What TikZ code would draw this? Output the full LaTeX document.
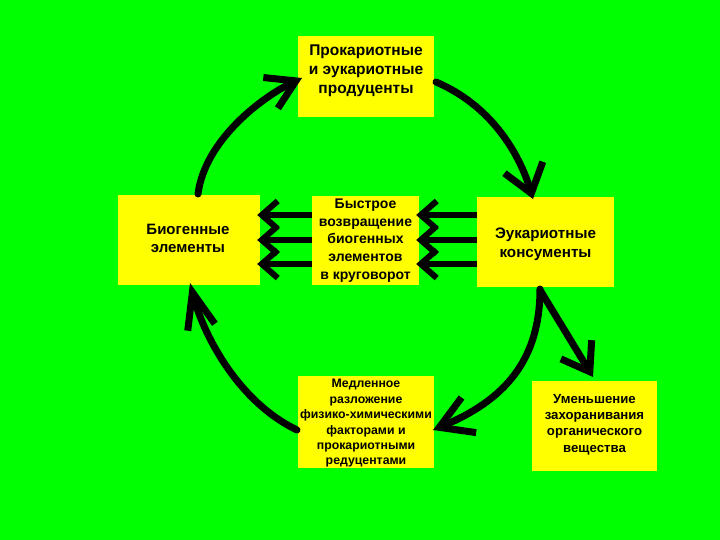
\documentclass[tikz,border=0pt]{standalone}
\usepackage{fontspec}
\setmainfont{Liberation Sans}
\usetikzlibrary{arrows.meta}
\definecolor{bggreen}{RGB}{0,255,0}
\definecolor{boxyellow}{RGB}{255,255,0}
\tikzset{
  box/.style={fill=boxyellow, draw=none, inner sep=0pt},
  boxtext/.style={inner sep=0pt, align=center, font=\bfseries},
  bigarrow/.style={line width=7pt, line cap=round},
  smallarrow/.style={line width=6pt, -{Straight Barb[length=16pt,width=28pt]}}
}
\begin{document}
\begin{tikzpicture}[x=1pt,y=-1pt]
\fill[bggreen] (0,0) rectangle (720,540);
\useasboundingbox (0,0) rectangle (720,540);
% boxes
\node[box, minimum width=136pt, minimum height=81pt] (prod) at (366,76.5) {};
\node[boxtext, font=\bfseries\fontsize{15.5}{19}\selectfont] (prodt) at (366,71) {Прокариотные\\и эукариотные\\продуценты};
\node[box, minimum width=142pt, minimum height=90pt] (bio) at (189,240) {};
\node[boxtext, font=\bfseries\fontsize{15}{17.5}\selectfont] (biot) at (188,238.5) {Биогенные\\элементы};
\node[box, minimum width=107pt, minimum height=89pt] (fast) at (365.5,240.5) {};
\node[boxtext, font=\bfseries\fontsize{14}{17.7}\selectfont] (fastt) at (365.5,240.5) {Быстрое\\возвращение\\биогенных\\элементов\\в круговорот};
\node[box, minimum width=137pt, minimum height=90pt] (cons) at (545.5,242) {};
\node[boxtext, font=\bfseries\fontsize{15.2}{19}\selectfont] (const) at (545.5,244.5) {Эукариотные\\консументы};
\node[box, minimum width=136pt, minimum height=92pt] (slow) at (366,422) {};
\node[boxtext, font=\bfseries\fontsize{12.3}{15.4}\selectfont] (slowt) at (366,423.5) {Медленное\\разложение\\физико-химическими\\факторами и\\прокариотными\\редуцентами};
\node[box, minimum width=125pt, minimum height=90pt] (bury) at (594.5,426) {};
\node[boxtext, font=\bfseries\fontsize{13.2}{16.3}\selectfont] (buryt) at (594.5,424.5) {Уменьшение\\захоранивания\\органического\\вещества};
% cycle arrows
\coordinate (a1) at (198,194);
\coordinate (a2) at (302,78);
\draw[bigarrow, -{Straight Barb[length=28pt,width=34pt]}] (a1) .. controls (205,140) and (262,97) .. (a2);
\coordinate (b1) at (436,82);
\coordinate (b2) at (533,199);
\draw[bigarrow, -{Straight Barb[length=27pt,width=40pt]}] (b1) .. controls (490,105) and (519,152) .. (b2);
\coordinate (c1) at (540,289);
\coordinate (c2) at (433,430);
\draw[bigarrow, -{Straight Barb[length=32pt,width=38pt]}] (c1) .. controls (540,360) and (505,400) .. (c2);
\coordinate (d1) at (297,430);
\coordinate (d2) at (190,283);
\draw[bigarrow, -{Straight Barb[length=36pt,width=28pt]}] (d1) .. controls (235,400) and (202,330) .. (d2);
\coordinate (e1) at (540,290);
\coordinate (e2) at (593,377);
\draw[bigarrow, -{Straight Barb[length=26pt,width=36pt]}] (e1) -- (e2);
% horizontal arrows
\foreach \yy in {215,240,264}{
  \draw[smallarrow] (fast.west |- 0,\yy) -- ([xshift=-3pt]bio.east |- 0,\yy);
  \draw[smallarrow] (cons.west |- 0,\yy) -- ([xshift=-3pt]fast.east |- 0,\yy);
}
\end{tikzpicture}
\end{document}
